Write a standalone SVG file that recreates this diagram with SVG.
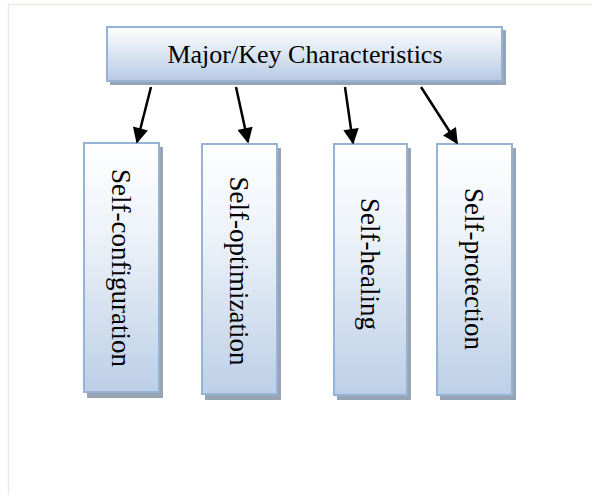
<svg xmlns="http://www.w3.org/2000/svg" width="592" height="495" viewBox="0 0 592 495">
  <defs>
    <linearGradient id="gTop" x1="0" y1="0" x2="0" y2="1">
      <stop offset="0" stop-color="#ffffff"/>
      <stop offset="1" stop-color="#b6cae3"/>
    </linearGradient>
    <linearGradient id="gBox" x1="0" y1="0" x2="0" y2="1">
      <stop offset="0" stop-color="#ffffff"/>
      <stop offset="0.35" stop-color="#eef3f9"/>
      <stop offset="1" stop-color="#bccfe7"/>
    </linearGradient>
    <marker id="ah" viewBox="0 0 10 10" refX="9" refY="5" markerWidth="7" markerHeight="6.2" orient="auto" markerUnits="strokeWidth">
      <path d="M0,0 L10,5 L0,10 z" fill="#000"/>
    </marker>
  </defs>
  <style>
    .shadow { fill: #98a3b4; }
    .box { stroke: #95b3d7; stroke-width: 2; }
    .lbl { font-family: "Liberation Serif", "Times New Roman", serif; font-size: 26px; fill: #000; }
    .vl { font-size: 27px; }
    .conn { stroke: #000; stroke-width: 2.5; fill: none; marker-end: url(#ah); }
  </style>
  <rect width="592" height="495" fill="#ffffff"/>
  <path d="M8.5,495 V4.5 H592" fill="none" stroke="#ecebe3" stroke-width="1.5"/>

  <g id="top">
    <rect class="shadow" x="110" y="30" width="396" height="55"/>
    <rect class="box" x="107" y="27" width="395" height="54" fill="url(#gTop)"/>
    <text class="lbl" x="305" y="63" text-anchor="middle">Major/Key Characteristics</text>
  </g>

  <g id="n1">
    <rect class="shadow" x="87" y="147" width="76" height="251"/>
    <rect class="box" x="84" y="143" width="75" height="249" fill="url(#gBox)"/>
    <text class="lbl vl" transform="translate(112,268) rotate(90)" text-anchor="middle">Self-configuration</text>
  </g>
  <g id="n2">
    <rect class="shadow" x="205" y="148" width="76" height="252"/>
    <rect class="box" x="202" y="144" width="75" height="250" fill="url(#gBox)"/>
    <text class="lbl vl" transform="translate(230,271) rotate(90)" text-anchor="middle">Self-optimization</text>
  </g>
  <g id="n3">
    <rect class="shadow" x="337" y="148" width="74" height="252"/>
    <rect class="box" x="334" y="144" width="73" height="251" fill="url(#gBox)"/>
    <text class="lbl vl" transform="translate(361,264) rotate(90)" text-anchor="middle">Self-healing</text>
  </g>
  <g id="n4">
    <rect class="shadow" x="440" y="148" width="76" height="252"/>
    <rect class="box" x="437" y="144" width="75" height="251" fill="url(#gBox)"/>
    <text class="lbl vl" transform="translate(465,269) rotate(90)" text-anchor="middle">Self-protection</text>
  </g>

  <g id="connectors">
    <line class="conn" x1="151" y1="87" x2="137" y2="142"/>
    <line class="conn" x1="236" y1="87" x2="248" y2="142"/>
    <line class="conn" x1="345" y1="87" x2="353" y2="143"/>
    <line class="conn" x1="421" y1="87" x2="457" y2="143"/>
  </g>
</svg>
